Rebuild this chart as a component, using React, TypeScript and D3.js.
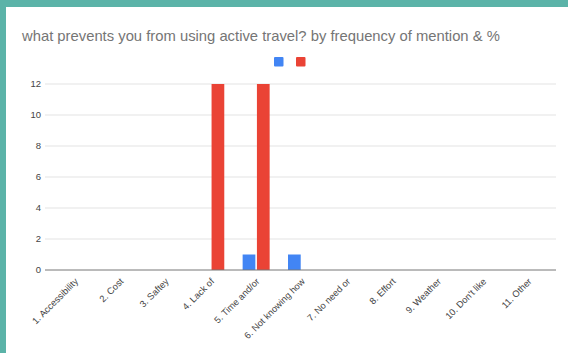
import React from "react";
import * as d3 from "d3";

const categories = [
  "1. Accessibility",
  "2. Cost",
  "3. Saftey",
  "4. Lack of",
  "5. Time and/or",
  "6. Not knowing how",
  "7. No need or",
  "8. Effort",
  "9. Weather",
  "10. Don't like",
  "11. Other",
];
const seriesNames = ["Frequency", "%"];
const frequencyValues = [0, 0, 0, 0, 1, 1, 0, 0, 0, 0, 0];
const percentValues = [0, 0, 0, 12, 12, 0, 0, 0, 0, 0, 0];
const yTicks = [0, 2, 4, 6, 8, 10, 12];

const colors = ["#4285f4", "#ea4335"];
const W = 568;
const H = 353;

export default function App() {
  const series = [frequencyValues, percentValues];
  const x = d3.scaleBand<string>().domain(categories).range([52, 551]);
  const inner = d3
    .scaleBand<number>()
    .domain([0, 1])
    .range([x.bandwidth() / 2 - 13.5, x.bandwidth() / 2 + 13.5])
    .paddingInner(0.11);
  const y = d3.scaleLinear().domain([0, 12]).range([270, 84]);
  const gridX0 = 45;
  const gridX1 = 556;

  return (
    <svg
      width={W}
      height={H}
      style={{ position: "absolute", left: 0, top: 0, display: "block" }}
      fontFamily="Arial, 'Liberation Sans', sans-serif"
    >
      <rect x={0} y={0} width={W} height={H} fill="#5bb3a8" />
      <rect x={6} y={7} width={W - 6} height={H - 7} fill="#ffffff" />
      <text x={22} y={41} fontSize={14.8} fill="#757575">
        what prevents you from using active travel? by frequency of mention &amp; %
      </text>
      {/* legend swatches */}
      {seriesNames.map((name, i) => (
        <rect
          key={name}
          x={274 + i * 22}
          y={57}
          width={9.5}
          height={9.5}
          rx={1}
          fill={colors[i]}
        />
      ))}
      {/* gridlines and y-axis labels */}
      {yTicks.map((t) => (
        <g key={t}>
          {t !== 0 && (
            <line x1={gridX0} x2={gridX1} y1={y(t)} y2={y(t)} stroke="#e3e3e3" strokeWidth={1} />
          )}
          <text
            x={41}
            y={y(t)}
            dy="0.35em"
            textAnchor="end"
            fontSize={9.5}
            fill="#444"
          >
            {t}
          </text>
        </g>
      ))}
      {/* bars */}
      {categories.map((c, ci) => (
        <g key={c} transform={`translate(${x(c)},0)`}>
          {series.map((vals, si) =>
            vals[ci] > 0 ? (
              <rect
                key={si}
                x={inner(si)}
                y={y(vals[ci])}
                width={inner.bandwidth()}
                height={y(0) - y(vals[ci])}
                fill={colors[si]}
              />
            ) : null
          )}
        </g>
      ))}
      <line x1={gridX0} x2={gridX1} y1={y(0)} y2={y(0)} stroke="#777" strokeWidth={1} />
      {/* rotated category labels */}
      {categories.map((c) => {
        const cx = (x(c) as number) + x.bandwidth() / 2 + 4;
        const cy = 282;
        return (
          <text
            key={c}
            transform={`translate(${cx},${cy}) rotate(-45)`}
            textAnchor="end"
            fontSize={9.3}
            fill="#444"
          >
            {c}
          </text>
        );
      })}
    </svg>
  );
}
